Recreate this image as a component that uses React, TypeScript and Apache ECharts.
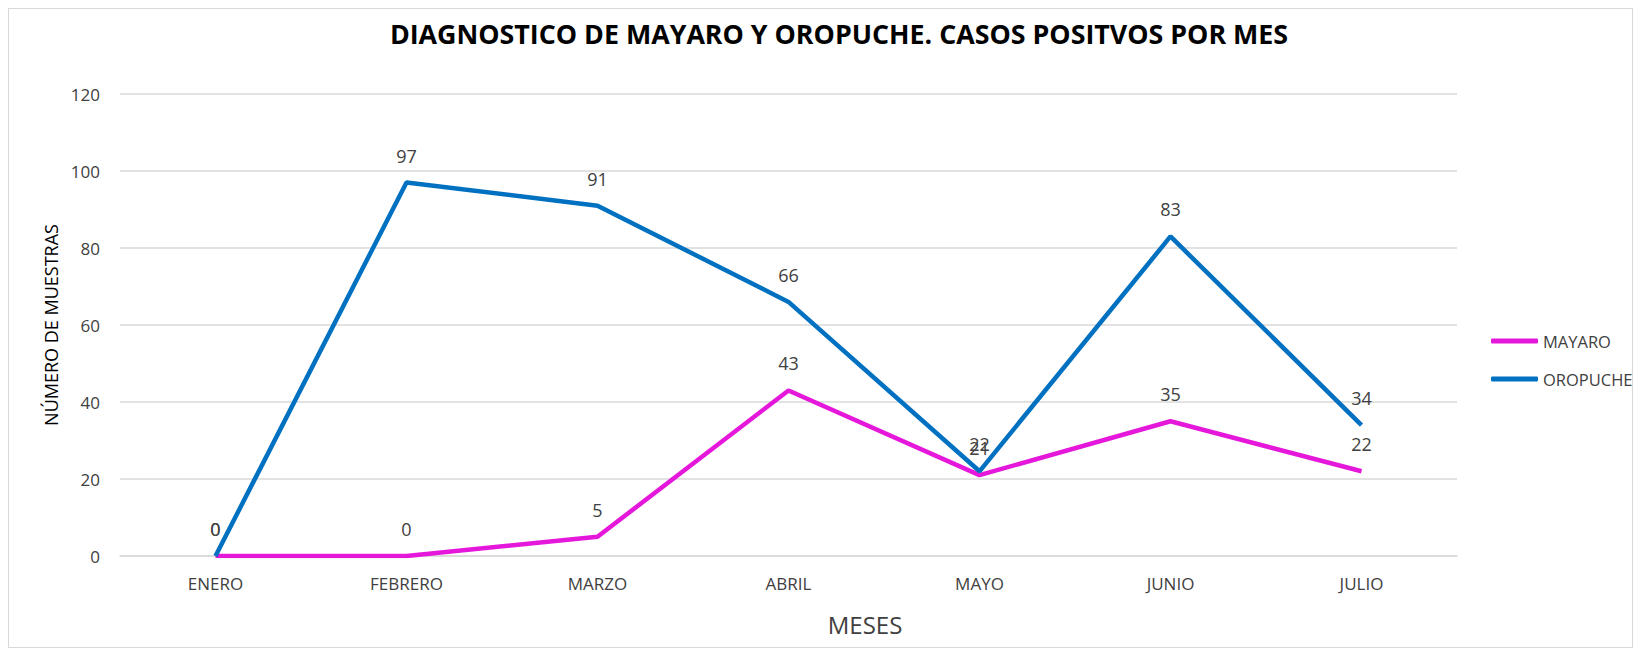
import React, { useEffect, useRef } from "react";
import * as echarts from "echarts";

const months = ["ENERO", "FEBRERO", "MARZO", "ABRIL", "MAYO", "JUNIO", "JULIO"];
const mayaro = [0, 0, 5, 43, 21, 35, 22];
const oropuche = [0, 97, 91, 66, 22, 83, 34];
const titleText = "DIAGNOSTICO DE MAYARO Y OROPUCHE. CASOS POSITVOS POR MES";
const yAxisName = "NÚMERO DE MUESTRAS";
const xAxisName = "MESES";

const FONT = "'Open Sans', sans-serif";

export default function App() {
  const ref = useRef<HTMLDivElement>(null);
  useEffect(() => {
    if (!ref.current) return;
    const chart = echarts.init(ref.current, null, { renderer: "svg" });
    const labelStyle = {
      show: true,
      position: "top" as const,
      distance: 18,
      color: "#404040",
      fontSize: 18,
      fontFamily: FONT,
    };
    chart.setOption({
      animation: false,
      backgroundColor: "#ffffff",
      legend: {
        orient: "vertical",
        left: 1477,
        top: 317,
        itemWidth: 47,
        itemHeight: 5,
        itemGap: 18,
        icon: "roundRect",
        textStyle: { fontFamily: FONT, fontSize: 16.5, color: "#404040", lineHeight: 20 },
        data: ["MAYARO", "OROPUCHE"],
      },
      grid: { left: 111, top: 85, width: 1337, height: 462, containLabel: false },
      graphic: [
        {
          type: "text",
          x: 830,
          y: 24,
          style: {
            text: titleText,
            fontFamily: FONT,
            fontWeight: "bold",
            fontSize: 26.8,
            fill: "#000000",
            align: "center",
            verticalAlign: "middle",
          },
        },
        {
          type: "text",
          x: 856,
          y: 615,
          style: {
            text: xAxisName,
            fontFamily: FONT,
            fontSize: 24,
            fill: "#404040",
            align: "center",
            verticalAlign: "middle",
          },
        },
      ],
      xAxis: {
        type: "category",
        data: months,
        boundaryGap: true,
        axisLine: { show: true, lineStyle: { color: "#d9d9d9", width: 1.5 } },
        axisTick: { show: false },
        axisLabel: { margin: 19, fontFamily: FONT, fontSize: 17, color: "#404040" },
      },
      yAxis: {
        type: "value",
        min: 0,
        max: 120,
        interval: 20,
        name: yAxisName,
        nameLocation: "middle",
        nameGap: 60,
        nameRotate: 90,
        nameTextStyle: { fontFamily: FONT, fontSize: 18, color: "#000000" },
        axisLine: { show: false },
        axisTick: { show: false },
        axisLabel: { margin: 20, fontFamily: FONT, fontSize: 17, color: "#404040" },
        splitLine: { lineStyle: { color: "#d9d9d9", width: 1.5 } },
      },
      series: [
        {
          name: "MAYARO",
          type: "line",
          data: mayaro,
          symbol: "circle",
          symbolSize: 0.1,
          showSymbol: true,
          lineStyle: { color: "#E517DB", width: 4.5 },
          itemStyle: { color: "#E517DB" },
          label: labelStyle,
        },
        {
          name: "OROPUCHE",
          type: "line",
          data: oropuche,
          symbol: "circle",
          symbolSize: 0.1,
          showSymbol: true,
          lineStyle: { color: "#0070C0", width: 4.5 },
          itemStyle: { color: "#0070C0" },
          label: labelStyle,
        },
      ],
    });
    return () => chart.dispose();
  }, []);
  return (
    <div style={{ width: 1625, height: 640, border: "1px solid #d9d9d9", boxSizing: "border-box" }}>
      <div ref={ref} style={{ width: 1623, height: 638 }} />
    </div>
  );
}
